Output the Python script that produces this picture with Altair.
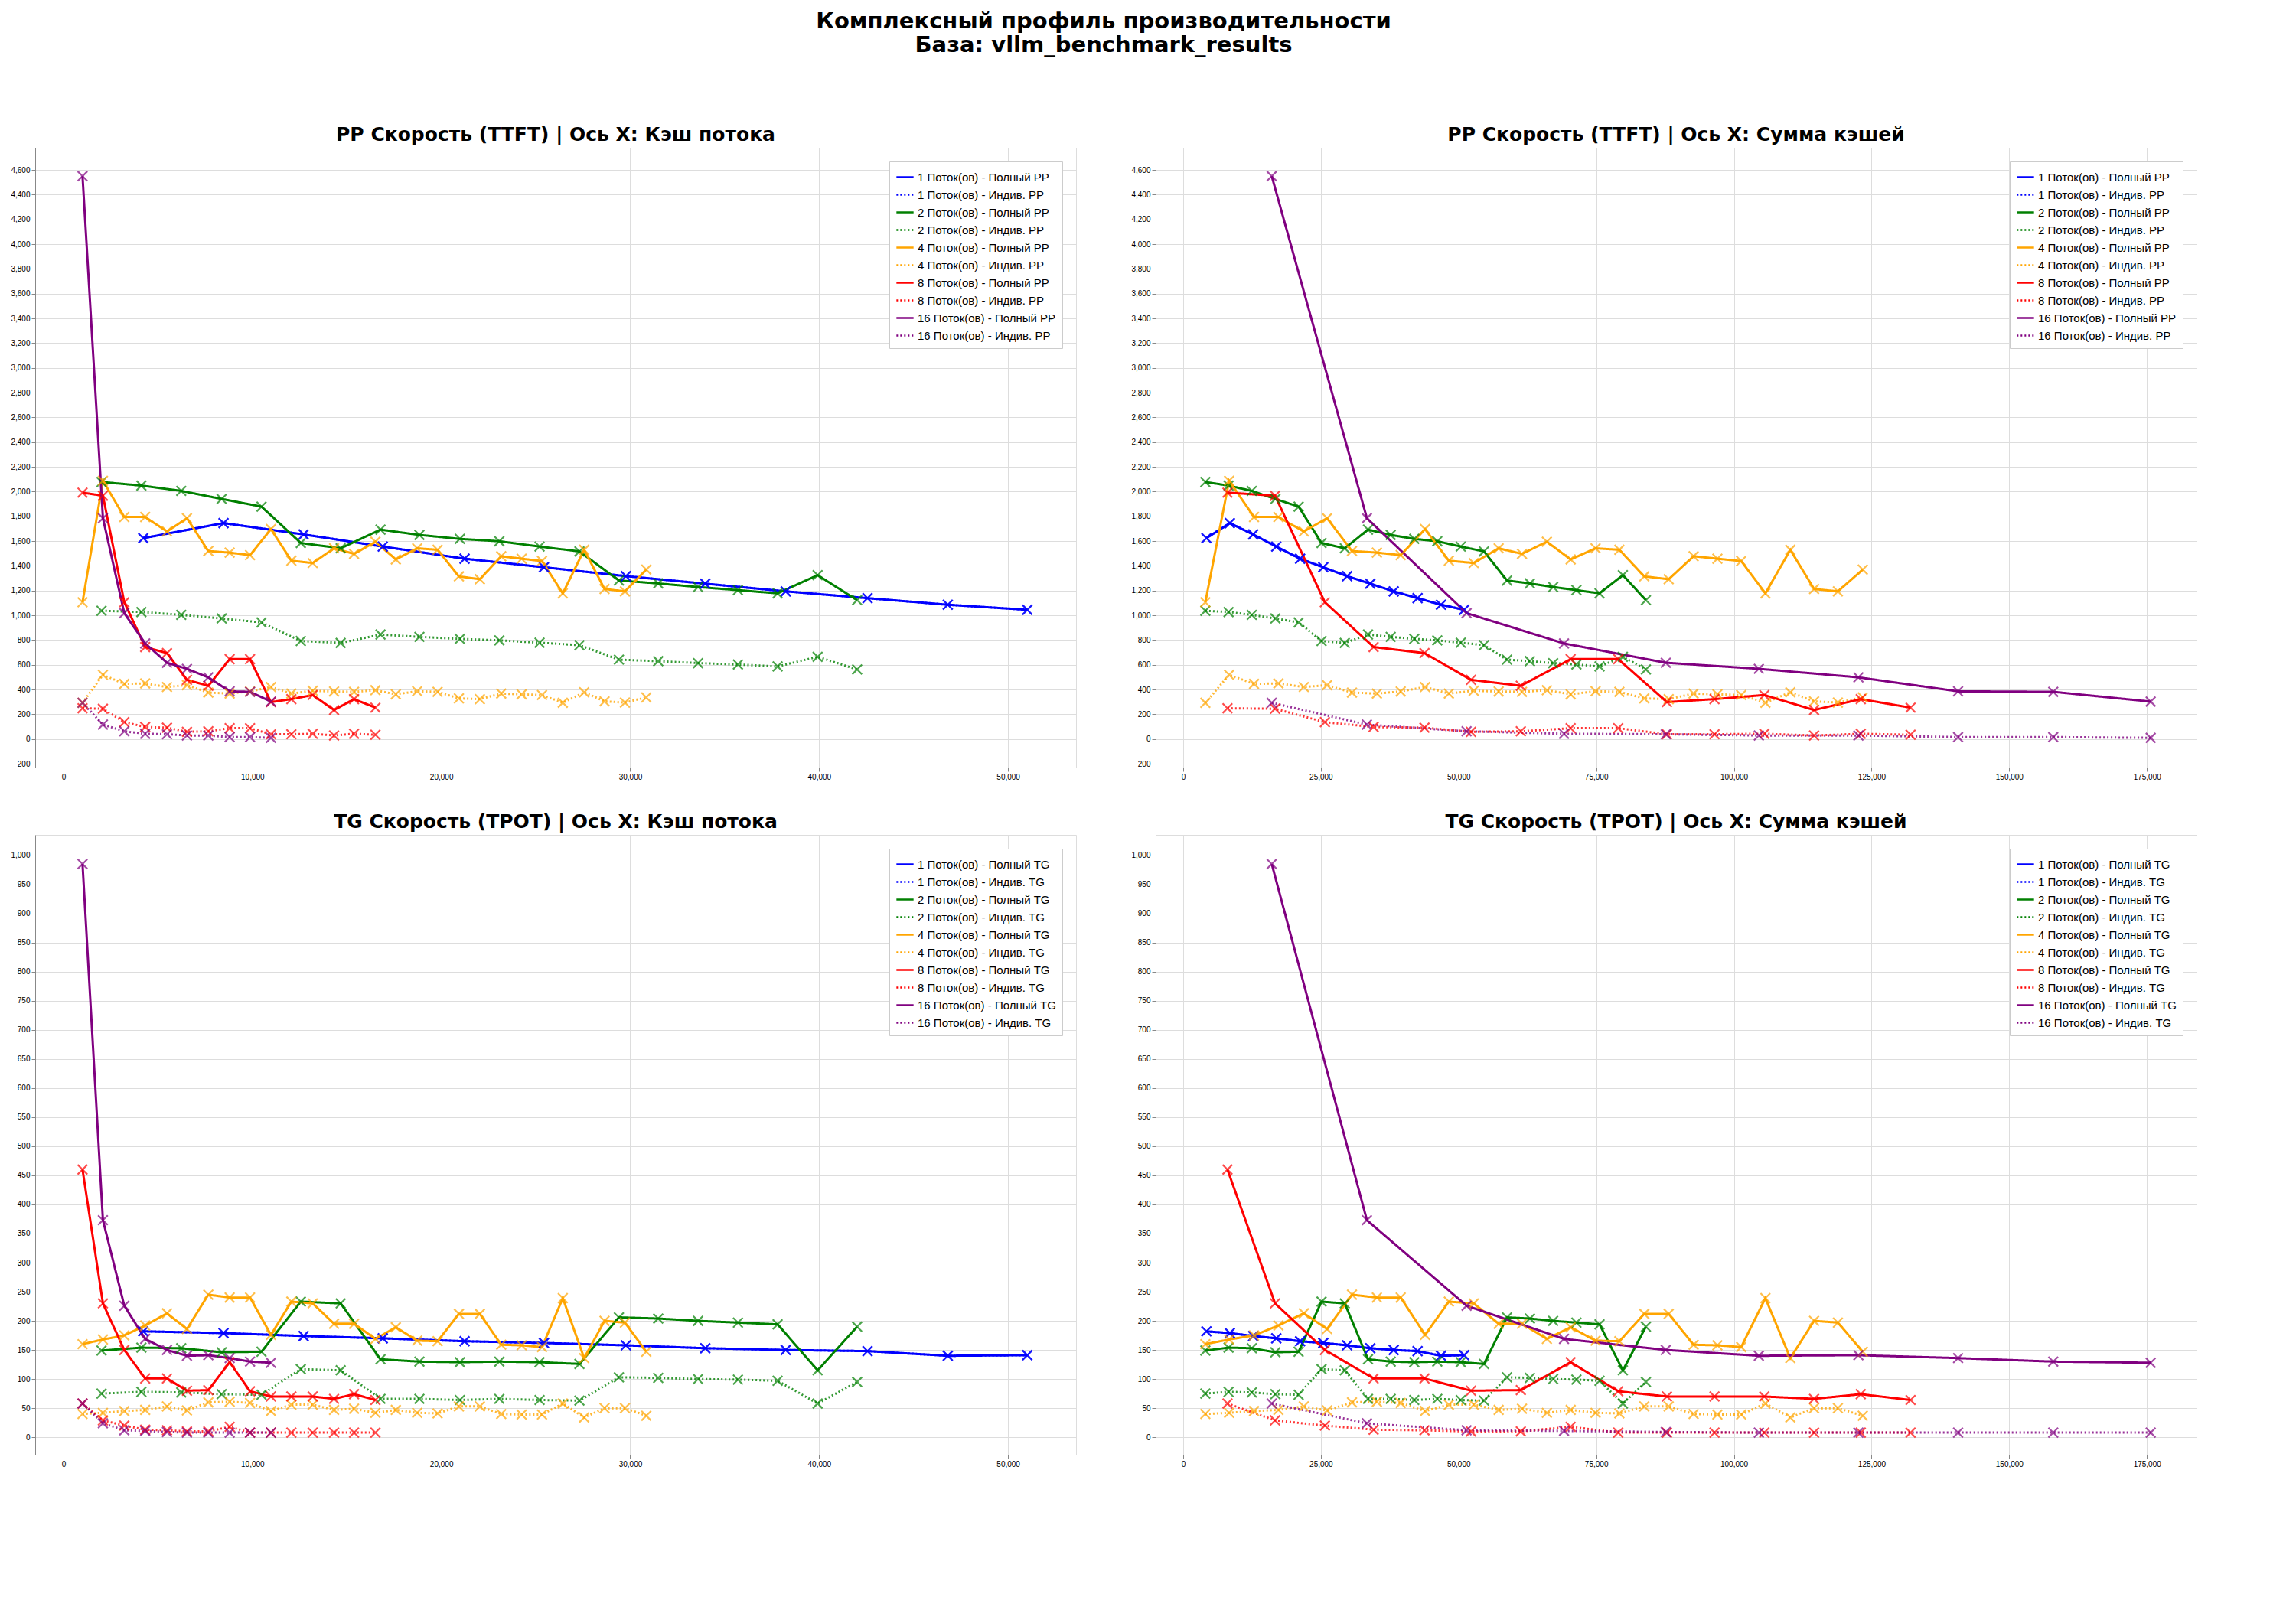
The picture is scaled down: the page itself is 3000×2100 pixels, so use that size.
import altair as alt
import pandas as pd

# cache per thread (x, left column); right column = cache * threads
x_1 = [4220, 8470, 12710, 16900, 21230, 25430, 29770, 33970, 38230, 42560, 46810, 51020]
pp_full_1 = [1624, 1746, 1654, 1556, 1458, 1389, 1317, 1256, 1194, 1139, 1086, 1045]
pp_ind_1 = [1624, 1746, 1654, 1556, 1458, 1389, 1317, 1256, 1194, 1139, 1086, 1045]
tg_full_1 = [182, 179, 174, 170, 165, 162, 158, 153, 150, 148, 140, 141]
tg_ind_1 = [182, 179, 174, 170, 165, 162, 158, 153, 150, 148, 140, 141]

x_2 = [2010, 4120, 6230, 8370, 10480, 12560, 14670, 16780, 18840, 20980, 23070, 25200,
       27310, 29400, 31480, 33590, 35700, 37800, 39920, 42010]
pp_full_2 = [2078, 2049, 2006, 1941, 1879, 1585, 1542, 1693, 1650, 1618, 1599, 1556,
             1517, 1282, 1258, 1229, 1204, 1178, 1325, 1123]
pp_ind_2 = [1037, 1027, 1004, 975, 943, 793, 777, 845, 826, 810, 798, 779,
            759, 642, 630, 614, 603, 587, 665, 563]
tg_full_2 = [149, 154, 153, 146, 147, 233, 230, 134, 130, 129, 130, 129,
             126, 206, 204, 200, 197, 194, 115, 190]
tg_ind_2 = [75, 78, 77, 74, 73, 117, 115, 66, 66, 64, 66, 64,
            63, 103, 102, 100, 99, 97, 58, 95]

x_4 = [1005, 2085, 3216, 4322, 5477, 6533, 7663, 8794, 9874, 10980, 12060, 13190, 14320, 15380,
       16510, 17590, 18720, 19800, 20930, 22040, 23170, 24250, 25330, 26430, 27560, 28640, 29720, 30850]
pp_full_4 = [1106, 2088, 1795, 1795, 1678, 1785, 1520, 1507, 1487, 1697, 1442, 1423, 1542, 1497,
             1595, 1452, 1542, 1530, 1315, 1292, 1478, 1458, 1439, 1178, 1530, 1213, 1194, 1370]
pp_ind_4 = [293, 519, 446, 450, 421, 436, 376, 368, 385, 421, 368, 391, 385, 382,
            395, 362, 387, 382, 329, 323, 368, 362, 356, 294, 378, 305, 295, 337]
tg_full_4 = [160, 168, 175, 192, 213, 186, 245, 240, 240, 176, 233, 230, 195, 195,
             169, 189, 166, 165, 212, 212, 159, 158, 155, 239, 136, 200, 197, 147]
tg_ind_4 = [40, 42, 45, 47, 53, 46, 60, 61, 59, 45, 56, 56, 47, 49,
            42, 47, 42, 41, 53, 53, 40, 39, 39, 58, 34, 50, 50, 37]

x_8 = [1005, 2085, 3216, 4322, 5477, 6533, 7663, 8794, 9874, 10980, 12060, 13190, 14320, 15380, 16510]
pp_full_8 = [1992, 1967, 1106, 744, 695, 479, 431, 646, 646, 299, 323, 356, 235, 323, 254]
pp_ind_8 = [249, 245, 137, 98, 92, 59, 63, 88, 88, 39, 39, 43, 29, 43, 35]
tg_full_8 = [460, 230, 150, 101, 101, 80, 81, 129, 79, 70, 70, 70, 66, 74, 64]
tg_ind_8 = [58, 29, 20, 13, 12, 10, 10, 18, 8, 8, 8, 8, 8, 8, 8]

x_16 = [1005, 2085, 3216, 4322, 5477, 6533, 7663, 8794, 9874, 10980]
pp_full_16 = [4550, 1785, 1018, 773, 617, 568, 499, 386, 382, 303]
pp_ind_16 = [293, 117, 63, 43, 39, 29, 29, 16, 16, 10]
tg_full_16 = [985, 373, 226, 169, 150, 140, 141, 136, 130, 128]
tg_ind_16 = [58, 24, 12, 11, 9, 8, 8, 8, 8, 8]

threads = [1, 2, 4, 8, 16]
colors = ["blue", "green", "orange", "red", "purple"]
series = {
    1: (x_1, pp_full_1, pp_ind_1, tg_full_1, tg_ind_1),
    2: (x_2, pp_full_2, pp_ind_2, tg_full_2, tg_ind_2),
    4: (x_4, pp_full_4, pp_ind_4, tg_full_4, tg_ind_4),
    8: (x_8, pp_full_8, pp_ind_8, tg_full_8, tg_ind_8),
    16: (x_16, pp_full_16, pp_ind_16, tg_full_16, tg_ind_16),
}

rows = []
for t, (xs, ppf, ppi, tgf, tgi) in series.items():
    for metric, full, ind in (("PP", ppf, ppi), ("TG", tgf, tgi)):
        for kind, vals in (("Полный", full), ("Индив.", ind)):
            for i, (x, v) in enumerate(zip(xs, vals)):
                rows.append({"metric": metric, "threads": t, "idx": i, "cache": x, "sum": x * t,
                             "value": v, "kind": kind,
                             "series": f"{t} Поток(ов) - {kind} {metric}"})
df = pd.DataFrame(rows)

XMARK = "M-1,-1L1,1M1,-1L-1,1"


def panel(metric, xfield, title, xdom, ydom, xstep):
    d = df[df.metric == metric]
    labels, cols, dashes = [], [], []
    for t, c in zip(threads, colors):
        for kind, dash in (("Полный", [1, 0]), ("Индив.", [2, 3])):
            labels.append(f"{t} Поток(ов) - {kind} {metric}")
            cols.append(c)
            dashes.append(dash)
    color = alt.Color("series:N", scale=alt.Scale(domain=labels, range=cols),
                      legend=alt.Legend(title=None, orient="top-right", labelFontSize=15,
                                        symbolType="stroke", symbolStrokeWidth=2.5, symbolSize=500,
                                        fillColor="white", strokeColor="#cccccc", padding=8,
                                        rowPadding=2, labelLimit=400))
    x = alt.X(f"{xfield}:Q", title=None, scale=alt.Scale(domain=xdom, nice=False, zero=False),
              axis=alt.Axis(values=list(range(0, xdom[1], xstep))))
    y = alt.Y("value:Q", title=None, scale=alt.Scale(domain=ydom, nice=False))
    base = alt.Chart(d)
    lines = base.mark_line(strokeWidth=3).encode(
        x=x, y=y, color=color, order="idx:Q",
        strokeDash=alt.StrokeDash("series:N", scale=alt.Scale(domain=labels, range=dashes), legend=None),
        opacity=alt.Opacity("kind:N", scale=alt.Scale(domain=["Полный", "Индив."], range=[1.0, 0.8]),
                            legend=None),
    )
    pts = base.mark_point(shape=XMARK, size=160, strokeWidth=2.2, filled=False).encode(
        x=x, y=y, color=alt.Color("series:N", scale=alt.Scale(domain=labels, range=cols), legend=None),
    )
    return alt.layer(lines, pts).properties(
        width=1360, height=810,
        title=alt.TitleParams(title, fontSize=25, fontWeight="bold", font="DejaVu Sans"))


pp_y = [-230, 4780]
tg_y = [-30, 1035]
a = panel("PP", "cache", "PP Скорость (TTFT) | Ось X: Кэш потока", [-1500, 53600], pp_y, 10000)
b = panel("PP", "sum", "PP Скорость (TTFT) | Ось X: Сумма кэшей", [-5000, 184000], pp_y, 25000)
c = panel("TG", "cache", "TG Скорость (TPOT) | Ось X: Кэш потока", [-1500, 53600], tg_y, 10000)
e = panel("TG", "sum", "TG Скорость (TPOT) | Ось X: Сумма кэшей", [-5000, 184000], tg_y, 25000)

top = alt.hconcat(a, b, spacing=70).resolve_scale(color="independent", strokeDash="independent")
bottom = alt.hconcat(c, e, spacing=70).resolve_scale(color="independent", strokeDash="independent")

chart = alt.vconcat(top, bottom, spacing=40).resolve_scale(
    color="independent", strokeDash="independent"
).properties(
    title=alt.TitleParams(["Комплексный профиль производительности", "База: vllm_benchmark_results"],
                          fontSize=29, fontWeight="bold", anchor="middle", offset=90, font="DejaVu Sans"),
).configure_view(stroke="black", strokeWidth=1.5).configure_axis(
    labelFontSize=20, labelFont="DejaVu Sans", labelColor="black", grid=True, gridColor="#cccccc",
    gridDash=[2, 3], domain=False, tickColor="black", tickSize=7,
).configure_legend(labelFont="DejaVu Sans").configure(background="white")

chart.save("out.html", embed_options={"renderer": "svg", "actions": False})
